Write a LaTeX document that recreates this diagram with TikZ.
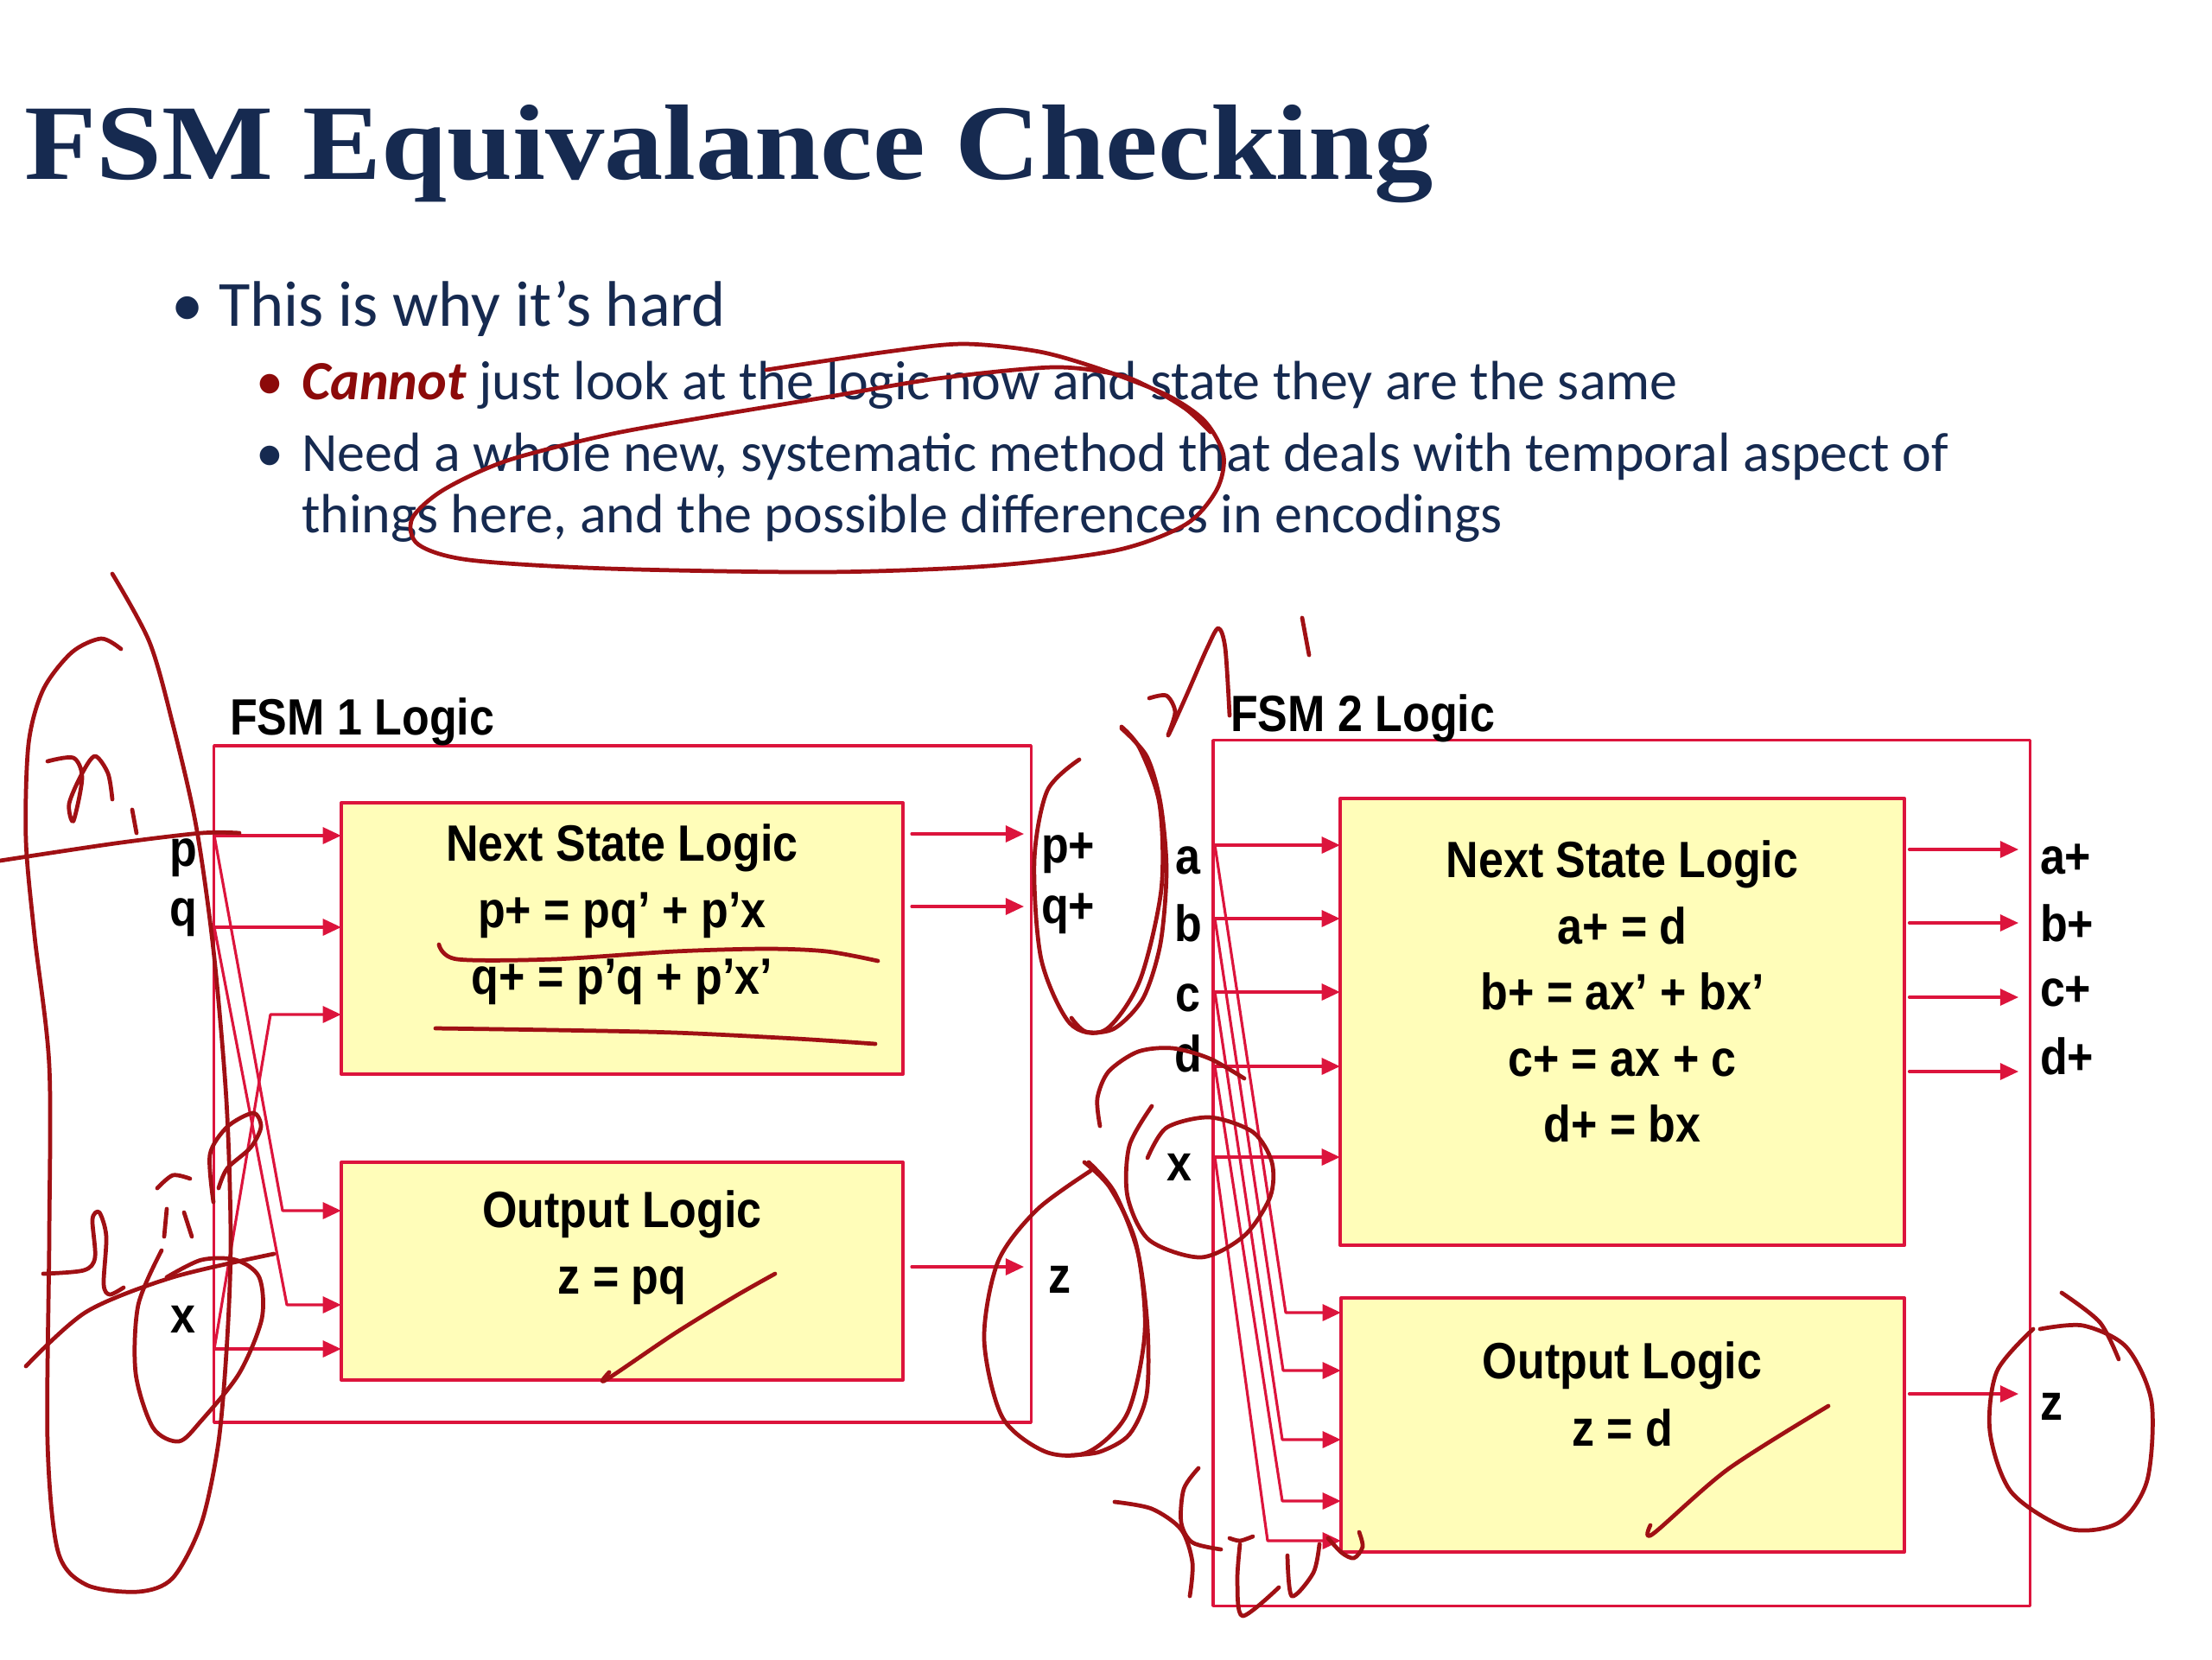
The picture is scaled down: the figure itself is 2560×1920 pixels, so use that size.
\documentclass[tikz,border=0pt]{standalone}
\usepackage{fontspec}
\setmainfont{Carlito}
\newfontfamily\titlefont[FakeStretch=1.1]{Liberation Serif}
\newfontfamily\diagfont[FakeStretch=0.88]{Liberation Sans}
\usetikzlibrary{arrows.meta,positioning}
\definecolor{navy}{RGB}{22,42,80}
\definecolor{boxred}{RGB}{220,20,60}
\definecolor{boxfill}{RGB}{255,253,185}
\definecolor{inkred}{RGB}{160,16,20}
\definecolor{darkred}{RGB}{140,10,10}
\begin{document}
\begin{tikzpicture}[x=0.01cm,y=-0.01cm,line join=round,line cap=round]
	\tikzset{every node/.style={inner sep=0pt,outer sep=0pt},
		logicbox/.style={draw=boxred,fill=boxfill,line width=1pt},
		fsmbox/.style={draw=boxred,line width=1pt},
		wire/.style={draw=boxred,line width=0.9pt,-{Triangle[length=6pt,width=5.4pt]}},
		lbl/.style={font=\diagfont\bfseries\fontsize{16.8pt}{20pt}\selectfont,anchor=base},
		bigtxt/.style={text=navy,font=\fontsize{21.2pt}{25pt}\selectfont},
		subtxt/.style={text=navy,font=\fontsize{18.2pt}{22pt}\selectfont},
		ink/.style={draw=inkred,line width=1.35pt}}
	\useasboundingbox (0,0) rectangle (2560,1920);
	% heading and bullets
	\node[anchor=base west,text=navy,font=\titlefont\bfseries\fontsize{35.3pt}{40pt}\selectfont] (title) at (28,207) {FSM Equivalance Checking};
	\node[bigtxt,anchor=base] (b1) at (217,377) {•};
	\node[bigtxt,anchor=base west] (t1) at (253,377) {This is why it’s hard};
	\node[subtxt,text=darkred,anchor=base] (b2) at (312,462) {•};
	\node[subtxt,anchor=base west] (t2) at (349,462) {\textcolor{darkred}{\textbf{\textit{Cannot}}} just look at the logic now and state they are the same};
	\node[subtxt,anchor=base] (b3) at (312,545) {•};
	\node[subtxt,anchor=base west] (t3) at (349,545) {Need a whole new, systematic method that deals with temporal aspect of};
	\node[subtxt,anchor=base west] (t4) at (349,616) {things here, and the possible differences in encodings};
	% FSM 1
	\node[fsmbox,minimum width=9.45cm,minimum height=7.83cm] (fsm1) at (720.5,1254.5) {};
	\node[lbl,anchor=base west] (fsm1lbl) at (266,850) {FSM 1 Logic};
	\node[logicbox,minimum width=6.5cm,minimum height=3.14cm] (ns1) at (720,1086) {};
	\node[logicbox,minimum width=6.5cm,minimum height=2.52cm] (ol1) at (720,1471) {};
	\foreach \ty/\txt [count=\i] in {996/Next State Logic, 1073/p+ = pq’ + p’x, 1150/q+ = p’q + p’x’}
	\node[lbl] (ns1t\i) at (720,\ty) {\txt};
	\foreach \ty/\txt [count=\i] in {1420/Output Logic, 1497/z = pq}
	\node[lbl] (ol1t\i) at (720,\ty) {\txt};
	\coordinate (p1) at (248,967);
	\coordinate (q1) at (248,1073);
	\coordinate (x1) at (248,1561);
	\coordinate (x1-up) at (313,1174);
	\coordinate (p1-dn) at (327,1401);
	\coordinate (q1-dn) at (332,1510);
	\draw[wire] (p1) -- (p1 -| ns1.west);
	\draw[wire] (q1) -- (q1 -| ns1.west);
	\draw[wire] (x1) -- (x1-up) -- (x1-up -| ns1.west);
	\draw[wire] (p1) -- (p1-dn) -- (p1-dn -| ol1.west);
	\draw[wire] (q1) -- (q1-dn) -- (q1-dn -| ol1.west);
	\draw[wire] (x1) -- (x1 -| ol1.west);
	\coordinate (pn1) at (1185,965);
	\coordinate (qn1) at (1185,1049);
	\coordinate (z1) at (1185,1466);
	\draw[wire,shorten <=2.8pt] (pn1 -| ns1.east) -- (pn1);
	\draw[wire,shorten <=2.8pt] (qn1 -| ns1.east) -- (qn1);
	\draw[wire,shorten <=2.8pt] (z1 -| ol1.east) -- (z1);
	\foreach \nm/\lx/\ly in {p/212/1002, q/212/1071, x/212/1542}
	\node[lbl] (in1\nm) at (\lx,\ly) {\nm};
	\foreach \nm/\lx/\ly/\txt in {pn/1205/998/p+, qn/1205/1068/q+, zo/1213/1496/z}
	\node[lbl,anchor=base west] (out1\nm) at (\lx,\ly) {\txt};
	% FSM 2
	\node[fsmbox,minimum width=9.45cm,minimum height=10.01cm] (fsm2) at (1876.5,1357.5) {};
	\node[lbl,anchor=base west] (fsm2lbl) at (1424,846) {FSM 2 Logic};
	\node[logicbox,minimum width=6.53cm,minimum height=5.17cm] (ns2) at (1877.5,1182.5) {};
	\node[logicbox,minimum width=6.52cm,minimum height=2.94cm] (ol2) at (1878,1649) {};
	\foreach \ty/\txt [count=\i] in {1015/Next State Logic, 1092/a+ = d, 1168/b+ = ax’ + bx’, 1245/c+ = ax + c, 1321/d+ = bx}
	\node[lbl] (ns2t\i) at (1877.5,\ty) {\txt};
	\foreach \ty/\txt [count=\i] in {1595/Output Logic, 1673/z = d}
	\node[lbl] (ol2t\i) at (1877.5,\ty) {\txt};
	\foreach \nm/\py/\bx/\by in {a2/978/1488/1519, b2/1063/1485/1586, c2/1148/1484/1666, d2/1234/1484/1737, x2/1339/1467/1783}{
		\coordinate (\nm) at (1406,\py);
		\coordinate (\nm-dn) at (\bx,\by);
		\draw[wire] (\nm) -- (\nm -| ns2.west);
		\draw[wire] (\nm) -- (\nm-dn) -- (\nm-dn -| ol2.west);
	}
	\foreach \nm/\py in {an2/983, bn2/1068, cn2/1154, dn2/1240}{
		\coordinate (\nm) at (2336,\py);
		\draw[wire,shorten <=1.5pt] (\nm -| ns2.east) -- (\nm);
	}
	\coordinate (z2) at (2336,1613);
	\draw[wire,shorten <=1.5pt] (z2 -| ol2.east) -- (z2);
	\foreach \nm/\lx/\ly in {a/1375/1011, b/1375/1089, c/1375/1170, d/1375/1240, x/1365/1366}
	\node[lbl] (in2\nm) at (\lx,\ly) {\nm};
	\foreach \nm/\ly/\txt in {an/1011/a+, bn/1089/b+, cn/1164/c+, dn/1243/d+, zo/1643/z}
	\node[lbl,anchor=base west] (out2\nm) at (2361,\ly) {\txt};
	% pen marks
	\draw[ink] plot[smooth] coordinates {(887,428) (1027,407) (1115,398) (1203,407) (1276,428) (1350,457) (1394,487) (1416,527) (1408,567) (1372,607) (1291,637) (1144,655) (954,662) (704,658) (543,648) (484,630) (477,600) (513,567) (587,533) (704,503) (821,482) (954,460) (1085,438) (1218,425) (1291,433) (1328,447) (1372,473) (1401,500)};
	\draw[ink] plot[smooth] coordinates {(508,1093) (529,1110) (641,1110) (781,1101) (887,1098) (957,1101) (1016,1112)};
	\draw[ink] plot[smooth] coordinates {(504,1190) (641,1192) (781,1195) (922,1202) (1013,1208)};
	\draw[ink] plot[smooth] coordinates {(705,1588) (701,1597) (781,1543) (851,1500) (897,1474)};
	\draw[ink] plot[smooth] coordinates {(1249,879) (1212,915) (1197,996) (1205,1110) (1238,1184) (1279,1192) (1319,1135) (1344,1029) (1342,931) (1319,866) (1298,841)};
	\draw[ink] plot[smooth] coordinates {(1262,1355) (1200,1400) (1155,1460) (1139,1550) (1160,1640) (1210,1680) (1260,1680) (1305,1635) (1325,1540) (1315,1440) (1285,1375) (1255,1345)};
	\draw[ink] plot[smooth] coordinates {(130,664) (173,743) (200,838) (227,956) (247,1099) (262,1273) (267,1431) (263,1549) (253,1668) (233,1763) (200,1826) (160,1842) (100,1834) (67,1795) (55,1668) (57,1431) (57,1233) (40,1083) (30,972) (33,861) (50,798) (83,755) (117,739) (140,751)};
	\draw[ink] plot[smooth] coordinates {(0,996) (133,976) (233,964) (277,964)};
	\draw[ink] plot[smooth] coordinates {(187,1447) (160,1510) (157,1589) (177,1652) (207,1668) (233,1644) (277,1589) (303,1526) (300,1478) (273,1458) (233,1458) (193,1478)};
	\draw[ink] plot[smooth] coordinates {(30,1581) (100,1518) (200,1478) (317,1451)};
	\draw[ink] plot[smooth] coordinates {(55,881) (85,877) (95,900) (85,950) (80,930) (95,895) (110,875) (125,895) (130,925)};
	\draw[ink] (153,937) -- (158,964);
	\draw[ink] plot[smooth] coordinates {(50,1474) (97,1470) (110,1455) (107,1411) (115,1403) (123,1431) (120,1486) (127,1498) (143,1490)};
	\draw[ink] plot[smooth] coordinates {(182,1375) (200,1360) (220,1364)};
	\draw[ink] plot[smooth] coordinates {(193,1399) (190,1431)};
	\draw[ink] plot[smooth] coordinates {(213,1403) (222,1431)};
	\draw[ink] plot[smooth] coordinates {(247,1391) (243,1336) (263,1304) (293,1288) (302,1304) (290,1328) (263,1352) (253,1375)};
	\draw[ink] plot[smooth] coordinates {(1330,808) (1350,805) (1360,824) (1352,851) (1373,805) (1397,750) (1410,727) (1418,750) (1423,828)};
	\draw[ink] (1507,715) -- (1515,758);
	\draw[ink] plot[smooth] coordinates {(1298,843) (1327,875) (1343,929) (1350,1007) (1343,1092) (1323,1155) (1290,1190) (1257,1194) (1240,1178)};
	\draw[ink] plot[smooth] coordinates {(1273,1303) (1270,1271) (1283,1240) (1317,1217) (1357,1213) (1400,1225) (1440,1248)};
	\draw[ink] plot[smooth] coordinates {(1333,1280) (1307,1326) (1305,1385) (1330,1435) (1390,1455) (1440,1430) (1470,1385) (1472,1345) (1450,1310) (1400,1293) (1350,1305) (1328,1340)};
	\draw[ink] plot[smooth] coordinates {(1260,1345) (1290,1380) (1317,1450) (1328,1536) (1327,1614) (1307,1660) (1273,1680) (1240,1684)};
	\draw[ink] plot[smooth] coordinates {(1290,1738) (1333,1746) (1367,1770) (1380,1808) (1377,1847)};
	\draw[ink] plot[smooth] coordinates {(1387,1699) (1370,1723) (1367,1762) (1380,1785) (1413,1793)};
	\draw[ink] plot[smooth] coordinates {(1423,1780) (1435,1783) (1450,1778)};
	\draw[ink] plot[smooth] coordinates {(1435,1787) (1432,1830) (1438,1870) (1480,1837)};
	\draw[ink] plot[smooth] coordinates {(1490,1800) (1495,1847) (1520,1820) (1527,1787)};
	\draw[ink] plot[smooth] coordinates {(1537,1780) (1553,1797) (1567,1803) (1577,1790) (1573,1773)};
	\draw[ink] plot[smooth] coordinates {(1910,1765) (1913,1775) (2000,1700) (2116,1627)};
	\draw[ink] plot[smooth] coordinates {(2353,1538) (2311,1587) (2303,1657) (2328,1727) (2394,1769) (2452,1762) (2485,1713) (2490,1622) (2461,1559) (2411,1534) (2361,1538)};
	\draw[ink] plot[smooth] coordinates {(2386,1496) (2430,1530) (2452,1573)};
\end{tikzpicture}
\end{document}
